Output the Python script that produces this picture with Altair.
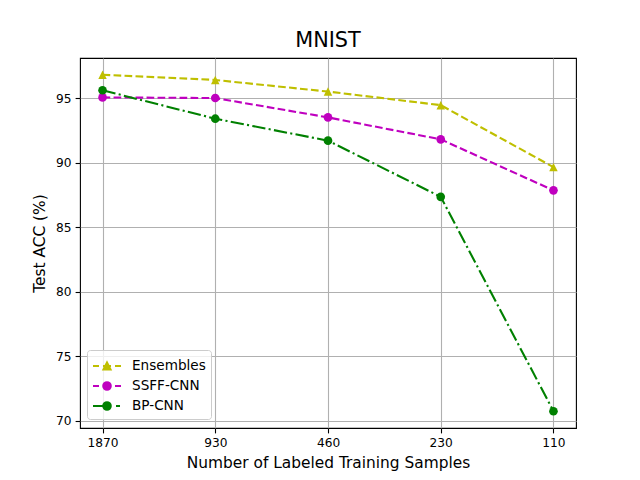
import altair as alt
import pandas as pd

samples = ["1870", "930", "460", "230", "110"]
series = ["Ensembles", "SSFF-CNN", "BP-CNN"]
ensembles = [96.8, 96.4, 95.5, 94.45, 89.65]
ssff_cnn = [95.05, 95.0, 93.5, 91.8, 87.85]
bp_cnn = [95.6, 93.4, 91.7, 87.35, 70.75]
y_ticks = [70, 75, 80, 85, 90, 95]

rows = []
for name, vals in zip(series, [ensembles, ssff_cnn, bp_cnn]):
    for s, v in zip(samples, vals):
        rows.append({"series": name, "samples": s, "acc": v})
df = pd.DataFrame(rows)

colors = ["#bfbf00", "#bf00bf", "#008000"]
dashes = [[7.7, 3.3], [7.7, 3.3], [13.3, 3.3, 2.1, 3.3]]

TRI = "M0,-1L-1,1L1,1Z"
marker_shapes = [TRI, "circle", "circle"]
marker_sizes = [72, 75, 75]

# legend symbols: line segments + marker (unit = 10px, centered at 0.4)
LEG_CIRCLE = "M0.78,0A0.38,0.38,0,1,1,0.02,0A0.38,0.38,0,1,1,0.78,0Z"
LEG_TRI = "M0.4,-0.36L0.04,0.36L0.76,0.36Z"
LEG_DASH = "M-1,0L-0.4,0M0,0L0.8,0M1.2,0L1.8,0"
LEG_DASHDOT = "M-1,0L0.3,0M1.3,0L1.7,0"
legend_shapes = [LEG_DASH + LEG_TRI, LEG_DASH + LEG_CIRCLE, LEG_DASHDOT + LEG_CIRCLE]

FONT = "DejaVu Sans"

x_enc = alt.X(
    "samples:N",
    sort=samples,
    scale=alt.Scale(type="point", padding=0.2),
    axis=alt.Axis(
        title="Number of Labeled Training Samples",
        labelAngle=0,
        grid=True,
        titlePadding=6,
    ),
)
y_enc = alt.Y(
    "acc:Q",
    scale=alt.Scale(domain=[69.45, 98.1], nice=False, zero=False),
    axis=alt.Axis(title="Test ACC (%)", values=y_ticks, grid=True, titlePadding=8),
)

layers = []
for i, name in enumerate(series):
    sub = alt.Chart(df).transform_filter(alt.datum.series == name).encode(x=x_enc, y=y_enc)
    layers.append(sub.mark_line(strokeWidth=2.1, color=colors[i], strokeDash=dashes[i]))
    layers.append(
        sub.mark_point(
            filled=True, opacity=1, size=marker_sizes[i], shape=marker_shapes[i], color=colors[i]
        )
    )

leg = alt.Legend(
    title=None,
    orient="none",
    legendX=7,
    legendY=292,
    padding=5,
    symbolSize=400,
    symbolStrokeWidth=2,
    labelOffset=18,
    labelFontSize=13.6,
    labelFont=FONT,
    labelColor="black",
    fillColor="rgba(255,255,255,0.8)",
    strokeColor="#cccccc",
    cornerRadius=3,
    rowPadding=1,
)

legend_layer = (
    alt.Chart(df)
    .transform_filter("false")
    .mark_point(filled=True, opacity=1, strokeWidth=2)
    .encode(
        x=x_enc,
        y=y_enc,
        color=alt.Color("series:N", sort=series, scale=alt.Scale(domain=series, range=colors), legend=leg),
        stroke=alt.Stroke("series:N", sort=series, scale=alt.Scale(domain=series, range=colors), legend=leg),
        shape=alt.Shape("series:N", sort=series, scale=alt.Scale(domain=series, range=legend_shapes), legend=leg),
    )
)
layers.append(legend_layer)

chart = (
    alt.layer(*layers)
    .properties(
        width=496,
        height=370,
        title=alt.TitleParams(
            "MNIST", font=FONT, fontSize=20.8, fontWeight="normal", offset=6, anchor="middle", color="black"
        ),
        autosize=alt.AutoSizeParams(type="none"),
        padding={"left": 72, "top": 50, "right": 48, "bottom": 52},
    )
    .configure_view(stroke="black", strokeWidth=1.1)
    .configure_axis(
        labelFont=FONT,
        titleFont=FONT,
        labelFontSize=12.2,
        titleFontSize=15.4,
        titleFontWeight="normal",
        labelColor="black",
        titleColor="black",
        gridColor="#b0b0b0",
        gridWidth=1.1,
        domain=False,
        tickColor="black",
        tickWidth=1.1,
        tickSize=4.9,
        labelPadding=4,
    )
)

chart.save("out.html", embed_options={"renderer": "svg", "actions": False})
